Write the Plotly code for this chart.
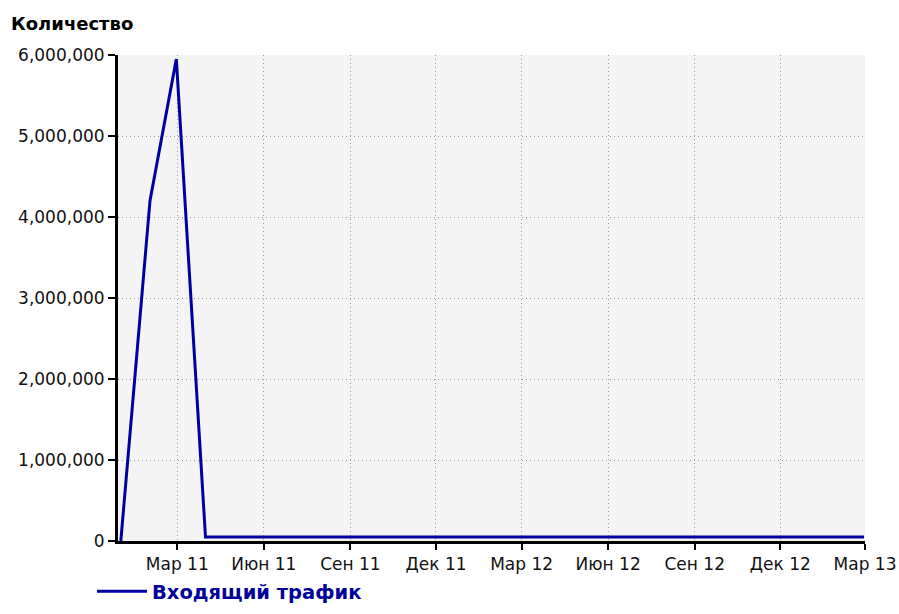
import plotly.graph_objects as go

dates = ["2010-12-31", "2011-01-31", "2011-02-28", "2011-03-31", "2011-04-30", "2011-05-31",
         "2011-06-30", "2011-07-31", "2011-08-31", "2011-09-30", "2011-10-31", "2011-11-30",
         "2011-12-31", "2012-01-31", "2012-02-29", "2012-03-31", "2012-04-30", "2012-05-31",
         "2012-06-30", "2012-07-31", "2012-08-31", "2012-09-30", "2012-10-31", "2012-11-30",
         "2012-12-31", "2013-01-31", "2013-02-28"]
values = [0, 4200000, 5950000, 50000, 50000, 50000,
          50000, 50000, 50000, 50000, 50000, 50000,
          50000, 50000, 50000, 50000, 50000, 50000,
          50000, 50000, 50000, 50000, 50000, 50000,
          50000, 50000, 50000]
series_name = "Входящий трафик"

tick_dates = ["2011-03-01", "2011-06-01", "2011-09-01", "2011-12-01", "2012-03-01",
              "2012-06-01", "2012-09-01", "2012-12-01", "2013-03-01"]
tick_labels = ["Мар 11", "Июн 11", "Сен 11", "Дек 11", "Мар 12",
               "Июн 12", "Сен 12", "Дек 12", "Мар 13"]
y_ticks = [0, 1000000, 2000000, 3000000, 4000000, 5000000, 6000000]

W, H = 899, 614
px_left, px_right, px_top, px_bottom = 118, 865, 55, 541
L, T = px_left, px_top
R, B = W - px_right, H - px_bottom
pw, ph = W - L - R, H - T - B


def fx(page_x):
    return (page_x - px_left) / pw


def fy(page_y):
    return (px_bottom - page_y) / ph


fig = go.Figure()
fig.add_trace(go.Scatter(x=dates, y=values, mode="lines", name=series_name,
                         line=dict(color="#0000a0", width=3), showlegend=True))

fig.update_layout(
    width=W, height=H,
    margin=dict(l=L, r=R, t=T, b=B, autoexpand=False),
    paper_bgcolor="white", plot_bgcolor="#f4f4f4",
    font=dict(family="DejaVu Sans", size=17, color="#111111"),
    showlegend=True,
    legend=dict(orientation="h", x=fx(92), y=fy(572),
                xanchor="left", yanchor="top", itemwidth=50,
                font=dict(size=19.5, color="#000099", family="DejaVu Sans", weight="bold"),
                bgcolor="rgba(0,0,0,0)"),
    annotations=[dict(text="<b>Количество</b>", xref="paper", yref="paper",
                      x=fx(9), y=fy(23), xanchor="left", yanchor="middle",
                      showarrow=False,
                      font=dict(size=18, color="black", family="DejaVu Sans"))],
)
fig.update_xaxes(type="date", range=["2010-12-28", "2013-03-01"],
                 tickvals=tick_dates, ticktext=tick_labels, automargin=False,
                 showline=True, linecolor="black", linewidth=3,
                 ticks="outside", ticklen=6, tickcolor="black", tickwidth=2,
                 showgrid=True, gridcolor="#9a9a9a", griddash="1px,3px", gridwidth=1,
                 zeroline=False)
fig.update_yaxes(range=[0, 6000000], tickvals=y_ticks, tickformat=",d", automargin=False,
                 showline=True, linecolor="black", linewidth=3,
                 ticks="outside", ticklen=7, tickcolor="black", tickwidth=2,
                 showgrid=True, gridcolor="#9a9a9a", griddash="1px,3px", gridwidth=1,
                 zeroline=False)

fig.write_html("out.html", config={"displayModeBar": False},
               post_script="document.body.style.margin='0';document.body.style.overflow='hidden';")
